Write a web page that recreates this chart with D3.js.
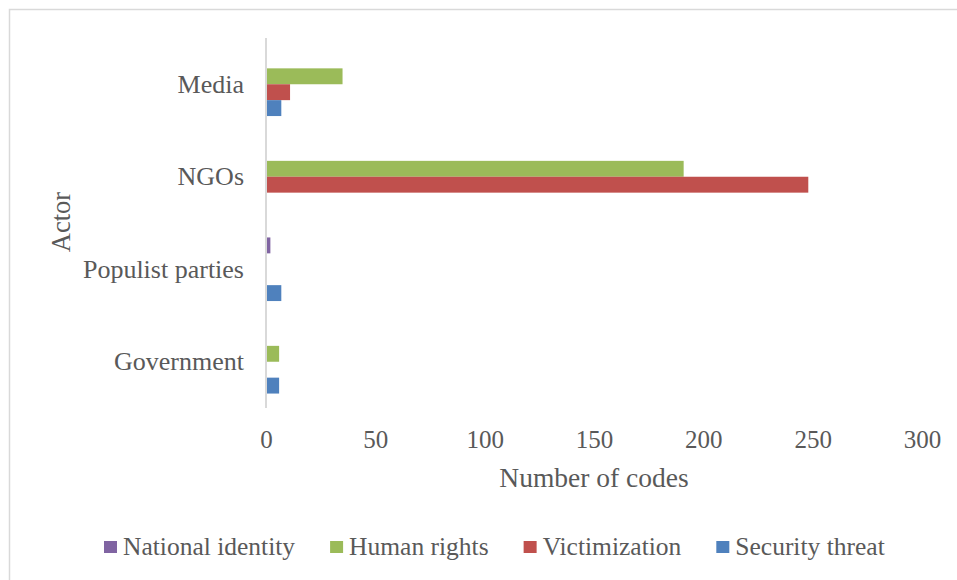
<!DOCTYPE html>
<html>
<head>
<meta charset="utf-8">
<script src="https://cdn.jsdelivr.net/npm/d3@7"></script>
<style>
  html, body { margin: 0; padding: 0; background: #ffffff; }
  svg { display: block; }
  text { font-family: "Liberation Serif", "Times New Roman", serif; fill: #595959; }
</style>
</head>
<body>
<svg id="chart" width="957" height="580"></svg>
<script>
// Actors shown on the vertical axis, top to bottom
const categories = ["Media", "NGOs", "Populist parties", "Government"];
// Frame types, in legend order (also top-to-bottom order within each group)
const seriesNames = ["National identity", "Human rights", "Victimization", "Security threat"];
const seriesColors = ["#8064a2", "#9bbb59", "#c0504d", "#4f81bd"];

// Number of codes per actor for each frame
const nationalIdentity = [0, 0, 2, 0];
const humanRights      = [35, 191, 0, 6];
const victimization    = [11, 248, 0, 0];
const securityThreat   = [7, 0, 7, 6];

const xTicks = [0, 50, 100, 150, 200, 250, 300];

const seriesValues = [nationalIdentity, humanRights, victimization, securityThreat];

const FONT = '"Liberation Serif", "Times New Roman", serif';
const TEXT_COLOR = "#595959";

const svg = d3.select("#chart");
const W = 957, H = 580;

svg.append("rect").attr("width", W).attr("height", H).attr("fill", "#ffffff");

// chart area frame (runs past the right and bottom edges)
svg.append("rect")
  .attr("x", 9.5).attr("y", 9.5)
  .attr("width", W + 20).attr("height", H + 20)
  .attr("fill", "none")
  .attr("stroke", "#d9d9d9")
  .attr("stroke-width", 1.5);

const plot = { left: 266, right: 922, top: 38, bottom: 408 };

const x = d3.scaleLinear().domain([0, 300]).range([plot.left, plot.right]);
const y = d3.scaleBand().domain(categories).range([plot.top, plot.bottom]).padding(0);
const groupPad = 14.45;
const ySub = d3.scaleBand()
  .domain(seriesNames)
  .range([groupPad, y.bandwidth() - groupPad])
  .padding(0);

// bars
const rows = [];
categories.forEach((c, ci) => {
  seriesNames.forEach((s, si) => {
    rows.push({ category: c, series: s, color: seriesColors[si], value: seriesValues[si][ci] });
  });
});

svg.append("g")
  .selectAll("rect")
  .data(rows.filter(d => d.value > 0))
  .join("rect")
  .attr("x", x(0))
  .attr("y", d => y(d.category) + ySub(d.series))
  .attr("width", d => x(d.value) - x(0))
  .attr("height", ySub.bandwidth())
  .attr("fill", d => d.color);

// vertical category axis line
svg.append("line")
  .attr("x1", x(0)).attr("x2", x(0))
  .attr("y1", plot.top).attr("y2", plot.bottom)
  .attr("stroke", "#d9d9d9")
  .attr("stroke-width", 2);

// category labels
const yAxis = d3.axisLeft(y).tickSize(0).tickPadding(22);
const yg = svg.append("g").attr("transform", `translate(${x(0)},0)`).call(yAxis);
yg.select(".domain").remove();
yg.selectAll("text")
  .attr("font-size", 26)
  .attr("dy", "0.33em")
  .style("font-family", FONT)
  .attr("fill", TEXT_COLOR);

// value axis tick labels (no axis line)
const xAxis = d3.axisBottom(x).tickValues(xTicks).tickSize(0).tickPadding(0).tickFormat(d3.format("d"));
const xg = svg.append("g").attr("transform", `translate(0,${plot.bottom})`).call(xAxis);
xg.select(".domain").remove();
xg.selectAll("text")
  .attr("font-size", 25)
  .attr("y", 40)
  .attr("dy", 0)
  .style("font-family", FONT)
  .attr("fill", TEXT_COLOR);

// axis titles
svg.append("text")
  .attr("x", (plot.left + plot.right) / 2)
  .attr("y", 487)
  .attr("text-anchor", "middle")
  .attr("font-size", 27.5)
  .style("font-family", FONT)
  .attr("fill", TEXT_COLOR)
  .text("Number of codes");

svg.append("text")
  .attr("transform", "translate(70,222) rotate(-90)")
  .attr("text-anchor", "middle")
  .attr("font-size", 26.5)
  .style("font-family", FONT)
  .attr("fill", TEXT_COLOR)
  .text("Actor");

// legend
const legend = svg.append("g");
let lx = 104;
seriesNames.forEach((name, i) => {
  const g = legend.append("g");
  g.append("rect")
    .attr("x", lx).attr("y", 541)
    .attr("width", 13).attr("height", 12)
    .attr("fill", seriesColors[i]);
  const t = g.append("text")
    .attr("x", lx + 19)
    .attr("y", 555)
    .attr("font-size", 25.5)
    .style("font-family", FONT)
    .attr("fill", TEXT_COLOR)
    .text(name);
  lx = lx + 19 + t.node().getComputedTextLength() + 35;
});
</script>
</body>
</html>
